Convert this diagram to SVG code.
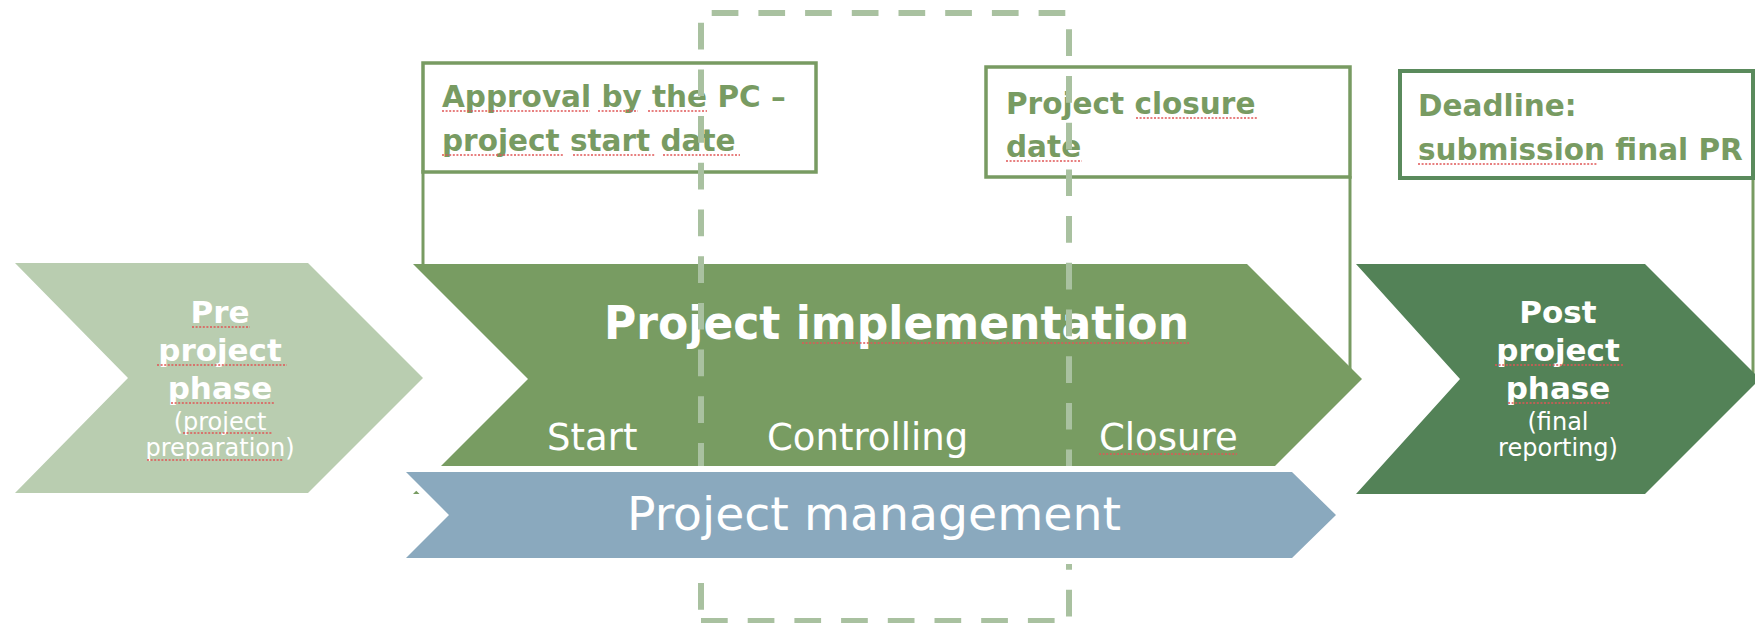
<svg xmlns="http://www.w3.org/2000/svg" width="1755" height="623" viewBox="0 0 1755 623">
<style>
  .box{fill:#ffffff;stroke:#789b62;stroke-width:3.5}
  .box2{fill:#ffffff;stroke:#5a8a5c;stroke-width:4}
  .lead{stroke:#789b62;stroke-width:3;fill:none}
  .btxt{font-family:"DejaVu Sans",Verdana,sans-serif;font-weight:bold;font-size:29.5px;fill:#789b62}
  .hd{font-family:"DejaVu Sans",Verdana,sans-serif;font-weight:bold;font-size:31px;fill:#ffffff;text-anchor:middle}
  .sub{font-family:"DejaVu Sans",Verdana,sans-serif;font-size:24px;fill:#ffffff;text-anchor:middle}
  .ph{font-family:"DejaVu Sans",Verdana,sans-serif;font-size:37px;fill:#ffffff}
  .dash{stroke:#a9c1a0;stroke-width:6;fill:none;stroke-dasharray:26.7 20}
  .spell{stroke:#e05555;stroke-width:1.6;fill:none;stroke-dasharray:2 1.6}
</style>
<g id="connectors">
  <line class="lead" x1="423" y1="170" x2="423" y2="266"/>
  <line class="lead" x1="1350" y1="176" x2="1350" y2="370"/>
  <line class="lead" x1="1753" y1="177" x2="1753" y2="376" stroke-width="2.5"/>
</g>
<g id="box-approval">
  <rect class="box" x="423" y="63" width="393" height="109"/>
  <text class="btxt" x="442" y="107">Approval by the PC –</text>
  <text class="btxt" x="442" y="151">project start date</text>
</g>
<g id="box-closure">
  <rect class="box" x="986" y="67" width="364" height="110"/>
  <text class="btxt" x="1006" y="114">Project closure</text>
  <text class="btxt" x="1006" y="157">date</text>
</g>
<g id="box-deadline">
  <rect class="box2" x="1400" y="71" width="353" height="107"/>
  <text class="btxt" x="1418" y="116">Deadline:</text>
  <text class="btxt" x="1418" y="160">submission final PR</text>
</g>
<g id="pre-phase">
  <polygon points="15,263 308,263 423,378 308,493 15,493 128,378" fill="#b9cdb0"/>
  <text class="hd" x="220" y="323">Pre</text>
  <text class="hd" x="220" y="361">project</text>
  <text class="hd" x="220" y="399">phase</text>
  <text class="sub" x="220" y="430">(project</text>
  <text class="sub" x="220" y="456">preparation)</text>
</g>
<g id="implementation">
  <polygon points="413,264 1247,264 1362,379 1247,494 413,494 528,379" fill="#789c62"/>
  <text x="604" y="339" font-family="DejaVu Sans,Verdana,sans-serif" font-weight="bold" font-size="46" fill="#ffffff" textLength="585" lengthAdjust="spacingAndGlyphs">Project implementation</text>
  <text class="ph" x="547" y="450">Start</text>
  <text class="ph" x="767" y="450">Controlling</text>
  <text class="ph" x="1099" y="450">Closure</text>
</g>
<g id="post-phase">
  <polygon points="1356,264 1645,264 1760,379 1645,494 1356,494 1460,379" fill="#538257"/>
  <text class="hd" x="1558" y="323">Post</text>
  <text class="hd" x="1558" y="361">project</text>
  <text class="hd" x="1558" y="399">phase</text>
  <text class="sub" x="1558" y="430">(final</text>
  <text class="sub" x="1558" y="456">reporting)</text>
</g>
<g id="spellcheck">
  <path class="spell" d="M442,111H590M598,111H638M648,111H707M442,155H563M573,155H655M663,155H740"/>
  <path class="spell" d="M1136,118H1257M1006,161H1082M1418,164H1598"/>
  <path class="spell" d="M192,327H250M157,365H287M171,403H274M183,433H272M147,460H283"/>
  <path class="spell" d="M802,343H1189M1099,454H1237"/>
  <path class="spell" d="M1495,365H1624M1508,403H1610"/>
</g>
<g id="phase-frame">
  <line class="dash" x1="701" y1="13" x2="1069" y2="13" stroke-dashoffset="36"/>
  <line class="dash" x1="701" y1="13" x2="701" y2="623" stroke-dashoffset="37"/>
  <line class="dash" x1="1069" y1="13" x2="1069" y2="623" stroke-dashoffset="30.4"/>
  <line class="dash" x1="701" y1="621" x2="1069" y2="621"/>
</g>
<g id="project-management">
  <polygon points="406,472 1292,472 1336,515 1292,558 406,558 449,515" fill="#8aa9be" stroke="#ffffff" stroke-width="12" stroke-linejoin="miter" paint-order="stroke"/>
  <text x="627" y="530" font-family="DejaVu Sans,Verdana,sans-serif" font-size="47" fill="#ffffff" textLength="494" lengthAdjust="spacingAndGlyphs">Project management</text>
</g>
</svg>
